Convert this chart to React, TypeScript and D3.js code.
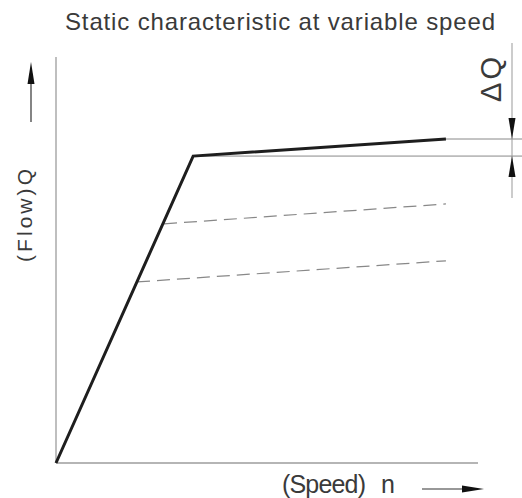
import React from "react";
import * as d3 from "d3";

const W = 522;
const H = 498;

const speedDomain = [0, 100];
const flowDomain = [0, 100];

// Main static characteristic (solid)
const mainSpeed = [0, 32.5, 92.4];
const mainFlow = [0, 75.6, 79.8];

// Lower-speed characteristics (dashed)
const dashedUpperSpeed = [25.6, 92.4];
const dashedUpperFlow = [58.9, 63.8];
const dashedLowerSpeed = [19.2, 92.4];
const dashedLowerFlow = [44.6, 49.8];

const titleText = "Static characteristic at variable speed";
const xLabelMain = "(Speed)";
const xLabelSym = "n";
const yLabel = "(Flow)Q";
const deltaLabel = "ΔQ";

const FONT = "'Liberation Sans', Arial, sans-serif";
const TEXT = "#3a3a3a";

export default function App() {
  const x = d3.scaleLinear().domain(speedDomain).range([56, 478]);
  const y = d3.scaleLinear().domain(flowDomain).range([463, 57]);

  const line = d3
    .line<[number, number]>()
    .x((d) => x(d[0]))
    .y((d) => y(d[1]));

  const mainPts = mainSpeed.map((s, i) => [s, mainFlow[i]] as [number, number]);
  const up = dashedUpperSpeed.map((s, i) => [s, dashedUpperFlow[i]] as [number, number]);
  const lo = dashedLowerSpeed.map((s, i) => [s, dashedLowerFlow[i]] as [number, number]);

  const kneeX = x(mainSpeed[1]);
  const kneeY = y(mainFlow[1]);
  const endX = x(mainSpeed[2]);
  const endY = y(mainFlow[2]);
  const dimX = 512;

  return (
    <svg
      width={W}
      height={H}
      style={{ position: "absolute", left: 0, top: 0, background: "#fff" }}
    >
      {/* title */}
      <text
        x={65}
        y={30}
        fontFamily={FONT}
        fontSize={24}
        fill={TEXT}
        textLength={430}
        lengthAdjust="spacing"
      >
        {titleText}
      </text>

      {/* axes */}
      <line x1={x(0)} y1={y(0)} x2={x(0)} y2={y(100)} stroke="#aaa" strokeWidth={1.5} />
      <line x1={x(0)} y1={y(0)} x2={x(100)} y2={y(0)} stroke="#b5b5b5" strokeWidth={2} />

      {/* reference horizontal lines for ΔQ */}
      <line x1={endX} y1={endY} x2={W} y2={endY} stroke="#888" strokeWidth={1} />
      <line x1={kneeX} y1={kneeY} x2={W} y2={kneeY} stroke="#888" strokeWidth={1} />

      {/* dimension line */}
      <line x1={dimX} y1={43} x2={dimX} y2={198} stroke="#999" strokeWidth={1} />
      <polygon
        points={`${dimX},${endY} ${dimX - 3.5},${endY - 21} ${dimX + 3.5},${endY - 21}`}
        fill="#111"
      />
      <polygon
        points={`${dimX},${kneeY} ${dimX - 3.5},${kneeY + 21} ${dimX + 3.5},${kneeY + 21}`}
        fill="#111"
      />
      <text
        transform={`translate(501,102) rotate(-90)`}
        fontFamily={FONT}
        fontSize={29}
        fill={TEXT}
        textLength={45}
        lengthAdjust="spacing"
      >
        {deltaLabel}
      </text>

      {/* dashed characteristics */}
      <path d={line(up) || ""} fill="none" stroke="#888" strokeWidth={1.2} strokeDasharray="13 7" />
      <path d={line(lo) || ""} fill="none" stroke="#888" strokeWidth={1.2} strokeDasharray="13 7" />

      {/* main characteristic */}
      <path
        d={line(mainPts) || ""}
        fill="none"
        stroke="#1e1e1e"
        strokeWidth={3}
        strokeLinejoin="miter"
      />

      {/* y label + arrow */}
      <text
        transform={`translate(32,262) rotate(-90)`}
        fontFamily={FONT}
        fontSize={21}
        fill={TEXT}
        textLength={93}
        lengthAdjust="spacing"
      >
        {yLabel}
      </text>
      <line x1={31} y1={122} x2={31} y2={80} stroke="#333" strokeWidth={1.2} />
      <polygon points="31,62 27.5,84 34.5,84" fill="#111" />

      {/* x label + arrow */}
      <text
        x={282}
        y={493}
        fontFamily={FONT}
        fontSize={25}
        fill={TEXT}
        textLength={84}
        lengthAdjust="spacing"
      >
        {xLabelMain}
      </text>
      <text x={381} y={493} fontFamily={FONT} fontSize={25} fill={TEXT}>
        {xLabelSym}
      </text>
      <line x1={422} y1={489} x2={465} y2={489} stroke="#333" strokeWidth={1.2} />
      <polygon points="484,489 462,485.5 462,492.5" fill="#111" />
    </svg>
  );
}
